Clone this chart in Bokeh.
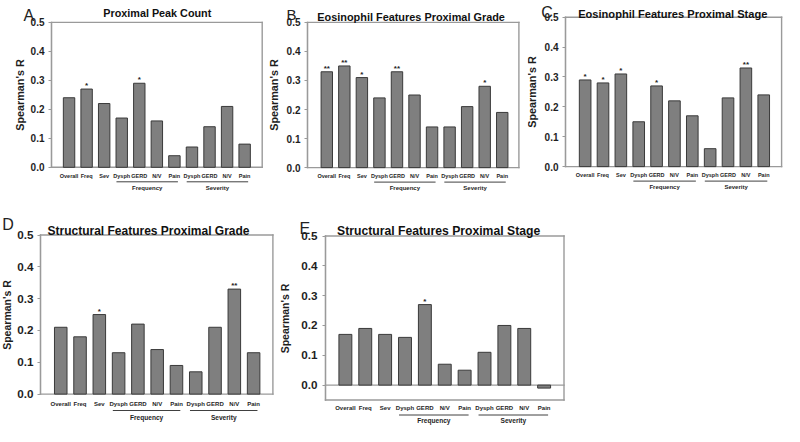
from bokeh.plotting import figure
from bokeh.layouts import column, row
from bokeh.models import (FixedTicker, PrintfTickFormatter, Label,
                          ColumnDataSource, Range1d)
from bokeh.core.properties import value
from bokeh.embed import file_html
from bokeh.resources import INLINE

# ---------------- data ----------------
categories = ["Overall", "Freq", "Sev", "Dysph", "GERD", "N/V", "Pain",
              "Dysph", "GERD", "N/V", "Pain"]
group_names = ["Frequency", "Severity"]
group_start = [3, 7]
group_end = [6, 10]
y_ticks = [0.0, 0.1, 0.2, 0.3, 0.4, 0.5]

peak_count = [0.24, 0.27, 0.22, 0.17, 0.29, 0.16, 0.04, 0.07, 0.14, 0.21, 0.08]
peak_count_sig = ["", "*", "", "", "*", "", "", "", "", "", ""]

eos_grade = [0.33, 0.35, 0.31, 0.24, 0.33, 0.25, 0.14, 0.14, 0.21, 0.28, 0.19]
eos_grade_sig = ["**", "**", "*", "", "**", "", "", "", "", "*", ""]

eos_stage = [0.29, 0.28, 0.31, 0.15, 0.27, 0.22, 0.17, 0.06, 0.23, 0.33, 0.24]
eos_stage_sig = ["*", "*", "*", "", "*", "", "", "", "", "**", ""]

struct_grade = [0.21, 0.18, 0.25, 0.13, 0.22, 0.14, 0.09, 0.07, 0.21, 0.33, 0.13]
struct_grade_sig = ["", "", "*", "", "", "", "", "", "", "**", ""]

struct_stage = [0.17, 0.19, 0.17, 0.16, 0.27, 0.07, 0.05, 0.11, 0.20, 0.19, -0.01]
struct_stage_sig = ["", "", "", "", "*", "", "", "", "", "", ""]

# ---------------- style ----------------
FONT = "Liberation Sans"
BAR_FILL = "#7f7f7f"
BAR_LINE = "#3a3a3a"
FRAME = "#9a9a9a"
TEXT = "#1e1e1e"
EDGE_PX = 1.4  # thickness of the frame edges in pixels


def make_panel(vals, sig, title, letter, W, H, left, right, half, zero, x0, x1,
               box_bottom, title_cx, title_by, title_fs, letter_lx, letter_by,
               letter_fs, tick_fs, axis_fs, cat_fs, grp_fs, lab_off, ul_off,
               grp_off, mls, als):
    ppu = (right - left) / (x1 - x0)
    x_start = x0 - left / ppu
    x_end = x1 + (W - right) / ppu
    k = 0.5 / (zero - half)
    y_end = 0.5 + half * k
    y_start = -(H - zero) * k

    def xd(px):
        return x0 + (px - left) / ppu

    def yd(py):
        return 0.5 + (half - py) * k

    p = figure(width=W, height=H, x_range=Range1d(x_start, x_end),
               y_range=Range1d(y_start, y_end), output_backend="svg",
               toolbar_location=None, x_axis_location=None, title=None,
               min_border_left=0, min_border_right=0, min_border_top=0,
               min_border_bottom=0, outline_line_color=None,
               background_fill_color="white", border_fill_color="white")
    p.grid.visible = False

    # frame box drawn as thin filled strips: left, top, right, bottom (+ zero line)
    hw = EDGE_PX / 2 / ppu   # half thickness in x data units
    hh = EDGE_PX / 2 * k     # half thickness in y data units
    fl = [x0 - hw, x0 - hw, x1 - hw, x0 - hw]
    fr = [x0 + hw, x1 + hw, x1 + hw, x1 + hw]
    fb = [box_bottom - hh, 0.5 - hh, box_bottom - hh, box_bottom - hh]
    ft = [0.5 + hh, 0.5 + hh, 0.5 + hh, box_bottom + hh]
    if box_bottom < 0:
        fl.append(x0 - hw)
        fr.append(x1 + hw)
        fb.append(-hh)
        ft.append(hh)
    p.quad(left=fl, right=fr, bottom=fb, top=ft, fill_color=FRAME,
           line_color=None)

    xs = list(range(len(categories)))
    src = ColumnDataSource(dict(x=xs, top=vals, sig=sig,
                                sy=[max(v, 0) + 3.5 * k for v in vals]))
    p.vbar(x="x", top="top", bottom=0, width=0.65, source=src,
           fill_color=BAR_FILL, line_color=BAR_LINE, line_width=1)
    p.text(x="x", y="sy", text="sig", source=src, text_font=value(FONT),
           text_font_size="8px", text_font_style="bold", text_color=TEXT,
           text_align="center", text_baseline="alphabetic")

    # y axis drawn at the box's left edge
    ax = p.yaxis[0]
    ax.fixed_location = x0
    ax.ticker = FixedTicker(ticks=y_ticks)
    ax.formatter = PrintfTickFormatter(format="%.1f")
    ax.bounds = (box_bottom, 0.5)
    ax.axis_label = "Spearman's R"
    ax.axis_label_text_font = FONT
    ax.axis_label_text_font_style = "bold"
    ax.axis_label_text_font_size = f"{axis_fs}px"
    ax.axis_label_text_color = TEXT
    ax.axis_label_standoff = als
    ax.major_label_text_font = FONT
    ax.major_label_text_font_style = "bold"
    ax.major_label_text_font_size = f"{tick_fs}px"
    ax.major_label_text_color = TEXT
    ax.major_label_standoff = mls
    ax.axis_line_color = FRAME
    ax.axis_line_width = 1.2
    ax.major_tick_line_color = FRAME
    ax.major_tick_out = 3
    ax.major_tick_in = 0
    ax.minor_tick_line_color = None

    # category labels
    ly = yd(zero + lab_off)
    p.text(x=xs, y=[ly] * len(xs), text=categories, text_font=value(FONT),
           text_font_size=f"{cat_fs}px", text_font_style="bold",
           text_color=TEXT, text_align="center", text_baseline="middle")
    # group underline + labels
    uy = yd(zero + ul_off)
    p.segment(x0=[s - 0.3 for s in group_start], x1=[e + 0.2 for e in group_end],
              y0=[uy] * 2, y1=[uy] * 2, line_color="#404040", line_width=1)
    gy = yd(zero + grp_off)
    p.text(x=[(s - 0.3 + e + 0.2) / 2 for s, e in zip(group_start, group_end)],
           y=[gy] * 2, text=group_names, text_font=value(FONT),
           text_font_size=f"{grp_fs}px", text_font_style="bold",
           text_color=TEXT, text_align="center", text_baseline="middle")

    # title and panel letter
    p.add_layout(Label(x=xd(title_cx), y=yd(title_by), text=title,
                       text_font=FONT, text_font_style="bold",
                       text_font_size=f"{title_fs}px", text_color="#111111",
                       text_align="center", text_baseline="alphabetic"))
    p.add_layout(Label(x=xd(letter_lx), y=yd(letter_by), text=letter,
                       text_font=FONT, text_font_style="normal",
                       text_font_size=f"{letter_fs}px", text_color="#222222",
                       text_align="left", text_baseline="alphabetic"))
    return p


pA = make_panel(peak_count, peak_count_sig, "Proximal Peak Count", "A",
                W=267, H=207, left=51, right=261.7, half=21.9, zero=166.8,
                x0=-1, x1=11, box_bottom=0, title_cx=156.8, title_by=12.8,
                title_fs=10.8, letter_lx=23, letter_by=15, letter_fs=16,
                tick_fs=10, axis_fs=10.8, cat_fs=5.5, grp_fs=6, lab_off=8.7,
                ul_off=14.5, grp_off=20.2, mls=4, als=2)
pB = make_panel(eos_grade, eos_grade_sig, "Eosinophil Features Proximal Grade", "B",
                W=260, H=207, left=40, right=251.4, half=21.9, zero=167.1,
                x0=-1.1, x1=10.95, box_bottom=0, title_cx=143.6, title_by=16.9,
                title_fs=10.9, letter_lx=18.9, letter_by=13.5, letter_fs=15,
                tick_fs=10, axis_fs=10.8, cat_fs=5.5, grp_fs=6, lab_off=8.7,
                ul_off=14.5, grp_off=20.2, mls=4, als=4)
pC = make_panel(eos_stage, eos_stage_sig, "Eosinophil Features Proximal Stage", "C",
                W=256, H=207, left=38, right=254.1, half=16.7, zero=166.1,
                x0=-1.1, x1=11, box_bottom=0, title_cx=145.3, title_by=13.5,
                title_fs=11.1, letter_lx=13.7, letter_by=12, letter_fs=16,
                tick_fs=10, axis_fs=10.8, cat_fs=5.5, grp_fs=6, lab_off=8.4,
                ul_off=14.5, grp_off=20.2, mls=4, als=4)
pD = make_panel(struct_grade, struct_grade_sig, "Structural Features Proximal Grade", "D",
                W=277, H=218, left=40, right=272.4, half=27.5, zero=186.6,
                x0=-1.05, x1=11, box_bottom=0, title_cx=148, title_by=23.4,
                title_fs=12, letter_lx=1.7, letter_by=17, letter_fs=16,
                tick_fs=11.7, axis_fs=10.5, cat_fs=6, grp_fs=6.6, lab_off=9.6,
                ul_off=16.4, grp_off=23.1, mls=4, als=1)
pE = make_panel(struct_stage, struct_stage_sig, "Structural Features Proximal Stage", "E",
                W=295, H=218, left=48, right=286.5, half=28.5, zero=177.6,
                x0=-1, x1=11, box_bottom=-0.05, title_cx=161.1, title_by=23.4,
                title_fs=12.2, letter_lx=21.9, letter_by=21, letter_fs=16,
                tick_fs=11.7, axis_fs=10.5, cat_fs=6, grp_fs=6.6, lab_off=23.1,
                ul_off=29.9, grp_off=35.7, mls=5, als=7)

layout = column(row(pA, pB, pC), row(pD, pE))
open("out.html", "w").write(file_html(layout, INLINE))
